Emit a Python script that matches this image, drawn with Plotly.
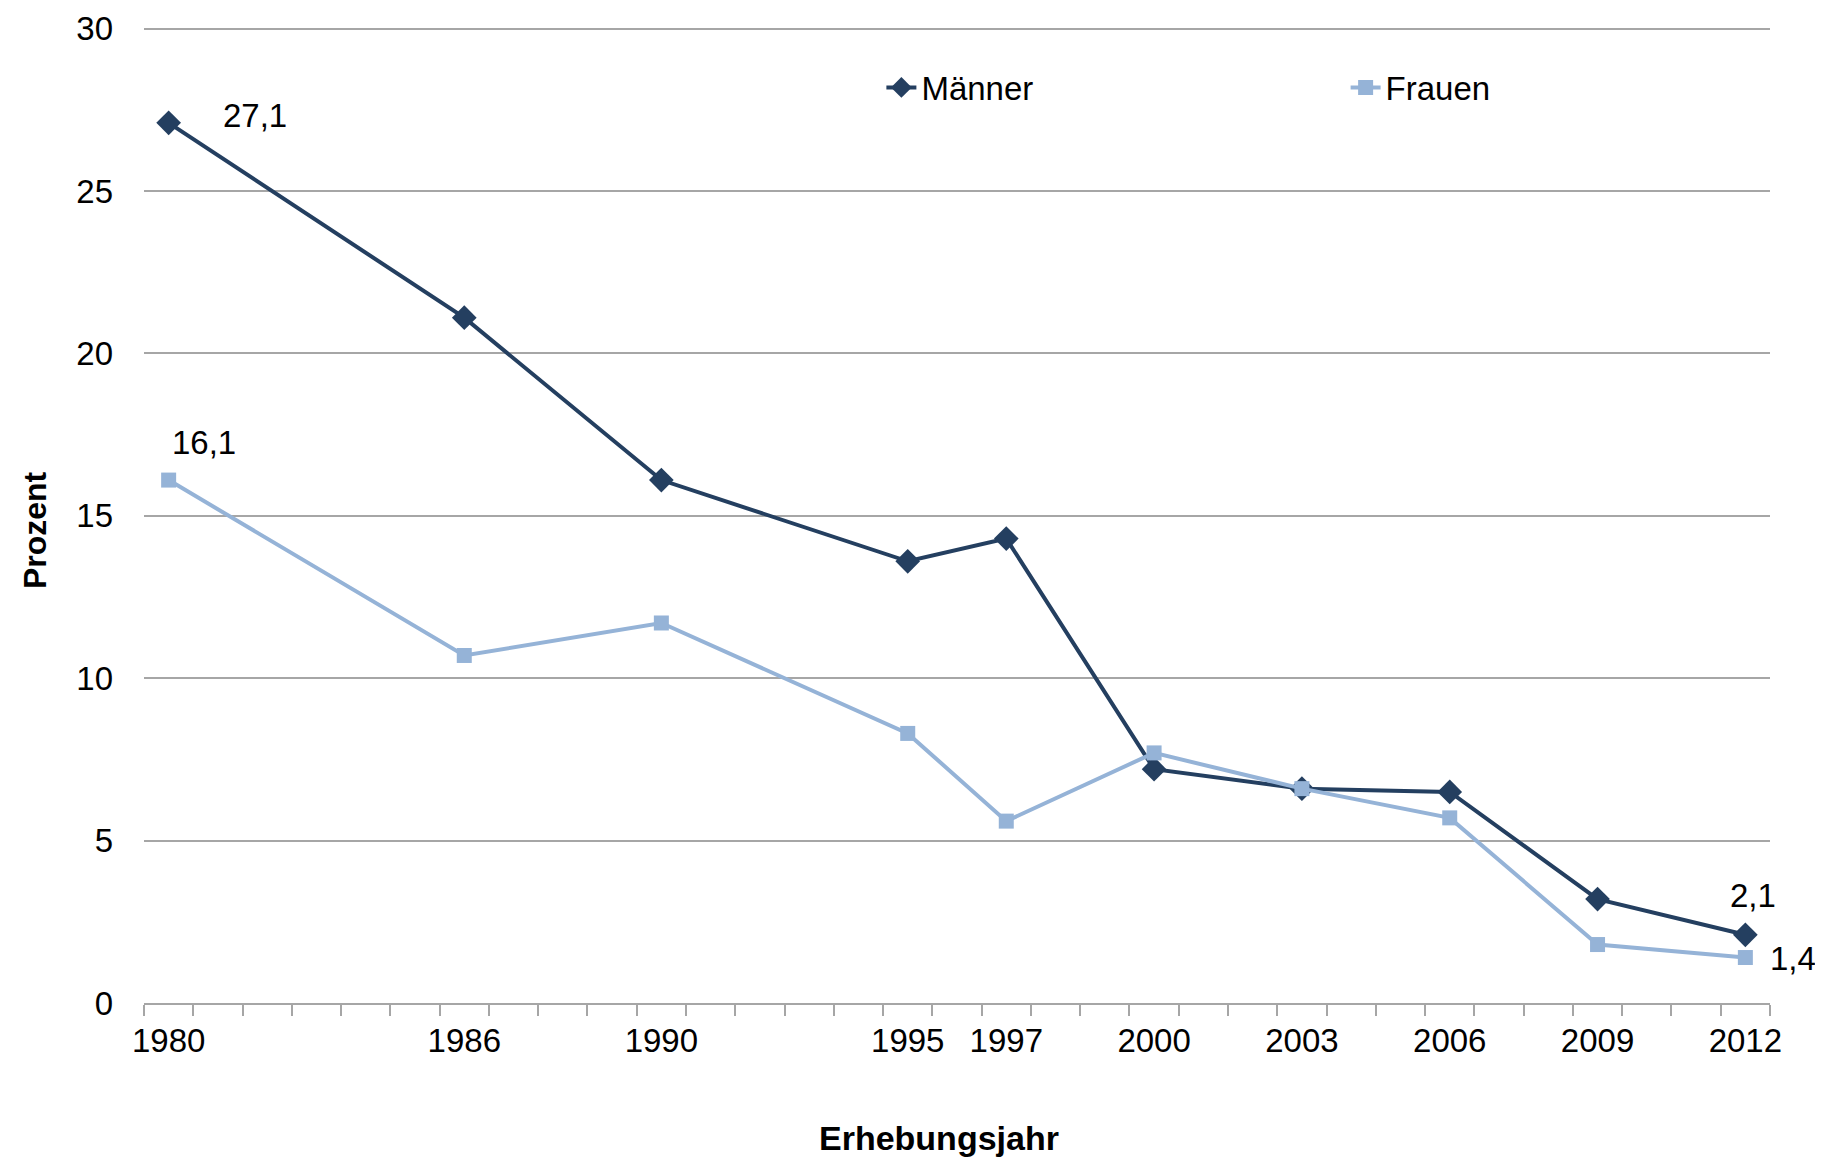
import plotly.graph_objects as go

years = [1980, 1986, 1990, 1995, 1997, 2000, 2003, 2006, 2009, 2012]
maenner = [27.1, 21.1, 16.1, 13.6, 14.3, 7.2, 6.6, 6.5, 3.2, 2.1]
frauen = [16.1, 10.7, 11.7, 8.3, 5.6, 7.7, 6.6, 5.7, 1.8, 1.4]
year_boundaries = [y + 0.5 for y in range(1979, 2013)]
y_ticks = [0, 5, 10, 15, 20, 25, 30]

FONT = "Liberation Sans, Arial, sans-serif"
DARK = "#243F60"
LIGHT = "#95B3D7"
FS = 33

fig = go.Figure()
fig.add_trace(go.Scatter(x=years, y=maenner, name="Männer", mode="lines+markers",
                         line=dict(color=DARK, width=4), legend="legend",
                         marker=dict(symbol="diamond", size=19, color=DARK)))
fig.add_trace(go.Scatter(x=years, y=frauen, name="Frauen", mode="lines+markers",
                         line=dict(color=LIGHT, width=4), legend="legend2",
                         marker=dict(symbol="square", size=15, color=LIGHT)))

def fmt(v):
    return f"{v:.1f}".replace(".", ",")

afont = dict(size=FS, color="#000", family=FONT)
fig.add_annotation(x=years[0], y=maenner[0], text=fmt(maenner[0]), showarrow=False,
                   xshift=86, yshift=7, font=afont)
fig.add_annotation(x=years[0], y=frauen[0], text=fmt(frauen[0]), showarrow=False,
                   xshift=35, yshift=38, font=afont)
fig.add_annotation(x=years[-1], y=maenner[-1], text=fmt(maenner[-1]), showarrow=False,
                   xshift=8, yshift=39, font=afont)
fig.add_annotation(x=years[-1], y=frauen[-1], text=fmt(frauen[-1]), showarrow=False,
                   xshift=48, yshift=-1, font=afont)

# axis titles
fig.add_annotation(xref="paper", yref="paper", x=-0.067, y=0.4846, text="<b>Prozent</b>",
                   textangle=-90, showarrow=False, xanchor="center", yanchor="middle",
                   font=dict(size=32, family=FONT, color="#000"))
fig.add_annotation(xref="paper", yref="paper", x=0.489, y=-0.138, text="<b>Erhebungsjahr</b>",
                   showarrow=False, xanchor="center", yanchor="middle",
                   font=dict(size=34, family=FONT, color="#000"))

legend_common = dict(orientation="h", yanchor="middle", xanchor="left",
                     font=dict(size=FS, family=FONT), bgcolor="rgba(0,0,0,0)")

fig.update_layout(
    width=1815, height=1150,
    margin=dict(l=136, r=53, t=19, b=155),
    paper_bgcolor="white", plot_bgcolor="white",
    font=dict(family=FONT, size=FS, color="#000"),
    showlegend=True,
    legend=dict(x=0.4535, y=0.938, **legend_common),
    legend2=dict(x=0.739, y=0.938, **legend_common),
    xaxis=dict(range=[1979.5, 2012.5], tickmode="array", tickvals=years,
               ticktext=[str(y) for y in years], ticks="outside", ticklen=0,
               ticklabelstandoff=7, automargin=False,
               showgrid=False, zeroline=False, showline=True, linecolor="#A6A6A6", linewidth=2,
               tickfont=dict(size=FS, family=FONT),
               minor=dict(tickmode="array", tickvals=year_boundaries, ticks="outside",
                          ticklen=11, tickcolor="#A6A6A6", tickwidth=2, showgrid=False)),
    yaxis=dict(range=[0, 30.05], tickmode="array", tickvals=y_ticks, showgrid=True,
               gridcolor="#A6A6A6", gridwidth=1.5, zeroline=False, showline=False,
               ticks="", ticklabelstandoff=30, automargin=False,
               tickfont=dict(size=FS, family=FONT)),
)

fig.write_html("out.html")
